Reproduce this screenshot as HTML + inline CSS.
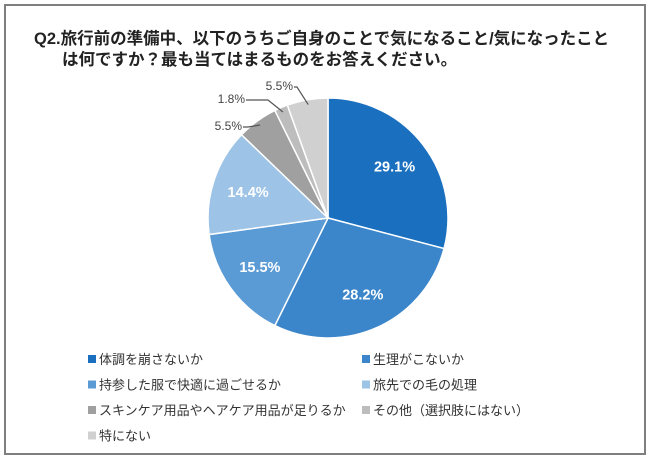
<!DOCTYPE html>
<html><head><meta charset="utf-8"><style>
body{margin:0;background:#fff;font-family:"Liberation Sans","Noto Sans CJK JP",sans-serif;}
#frame{position:absolute;left:4px;top:4px;width:638px;height:447px;border:2px solid #7f7f7f;background:#fff;}
</style></head><body>
<div id="frame"></div>
<svg width="650" height="458" style="position:absolute;left:0;top:0">
<g id="title" font-weight="bold" font-size="16.5" fill="#222">
<text x="34" y="44">Q2.旅行前の準備中、以下のうちご自身のことで気になること/気になったこと</text>
<text x="62" y="65">は何ですか？最も当てはまるものをお答えください。</text>
</g>
<g id="pie"></g><g id="labels"></g><g id="legend"></g>
</svg>
<script>
const categories=["体調を崩さないか","生理がこないか","持参した服で快適に過ごせるか","旅先での毛の処理","スキンケア用品やヘアケア用品が足りるか","その他（選択肢にはない）","特にない"];
const values=[29.1,28.2,15.5,14.4,5.5,1.8,5.5];
const valueLabels=["29.1%","28.2%","15.5%","14.4%","5.5%","1.8%","5.5%"];
const colors=["#1a6fbf","#3b86cb","#5b9bd5","#9dc3e6","#a0a0a0","#bdbdbd","#d0d0d0"];
const NS="http://www.w3.org/2000/svg";
const cx=328,cy=218,r=120;
const total=values.reduce((a,b)=>a+b,0);
const pie=document.getElementById('pie'),lab=document.getElementById('labels'),leg=document.getElementById('legend');
function pt(a,rr){return [cx+rr*Math.sin(a),cy-rr*Math.cos(a)];}
let acc=0;
// label anchor (text end x, baseline y) and elbow for outside labels
const outside=[[243,130,248],[246,103,268],[294,90,297]];
values.forEach((v,i)=>{
  const a0=acc/total*2*Math.PI;acc+=v;const a1=acc/total*2*Math.PI;
  const p0=pt(a0,r),p1=pt(a1,r);
  const path=document.createElementNS(NS,'path');
  path.setAttribute('d',`M${cx},${cy}L${p0[0]},${p0[1]}A${r},${r} 0 ${a1-a0>Math.PI?1:0} 1 ${p1[0]},${p1[1]}Z`);
  path.setAttribute('fill',colors[i]);path.setAttribute('stroke','#fff');path.setAttribute('stroke-width','1.5');
  
  
  pie.appendChild(path);
  const am=(a0+a1)/2;
  const t=document.createElementNS(NS,'text');
  t.textContent=valueLabels[i];
  if(i<4){
    const p=pt(am,r*0.7);
    t.setAttribute('x',p[0]);t.setAttribute('y',p[1]+5);t.setAttribute('text-anchor','middle');
    t.setAttribute('fill','#fff');t.setAttribute('font-weight','bold');t.setAttribute('font-size','14.5');
  }else{
    const o=outside[i-4];
    const e=pt(am,r*0.96);
    const ly=o[1]-3;
    const ln=document.createElementNS(NS,'polyline');
    ln.setAttribute('points',`${o[0]},${ly} ${o[2]},${ly} ${e[0]},${e[1]}`);
    ln.setAttribute('fill','none');ln.setAttribute('stroke','#555');ln.setAttribute('stroke-width','1.2');
    
    
    lab.appendChild(ln);
    t.setAttribute('x',o[0]-1);t.setAttribute('y',o[1]);t.setAttribute('text-anchor','end');
    t.setAttribute('fill','#444');t.setAttribute('font-size','12');
  }
  
  
  lab.appendChild(t);
  const col=i%2,row=Math.floor(i/2);
  const lx=88+col*274,ly=360+row*25.5;
  const g=document.createElementNS(NS,'g');
  
  
  const s=document.createElementNS(NS,'rect');
  s.setAttribute('x',lx);s.setAttribute('y',ly-5);s.setAttribute('width',8);s.setAttribute('height',8);s.setAttribute('fill',colors[i]);
  const lt=document.createElementNS(NS,'text');
  lt.setAttribute('x',lx+11);lt.setAttribute('y',ly+4);lt.setAttribute('font-size','13');lt.setAttribute('fill','#333');
  lt.textContent=categories[i];
  g.appendChild(s);g.appendChild(lt);leg.appendChild(g);
});
</script>
</body></html>
